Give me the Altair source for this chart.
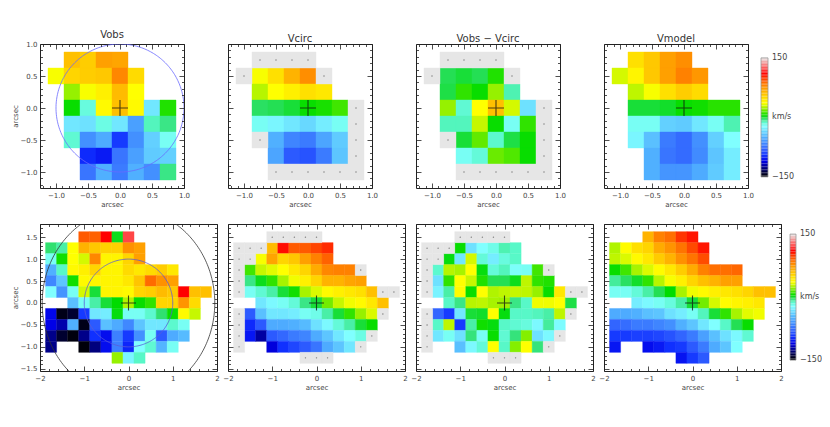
import altair as alt
import numpy as np
import pandas as pd

N = None   # no pixel
G = "g"    # observed pixel without model value (grey)

# ---------------- grids ----------------
cell = 0.25
top_x = [-1.0, -0.75, -0.5, -0.25, 0.0, 0.25, 0.5, 0.75]
top_y = [0.75, 0.5, 0.25, 0.0, -0.25, -0.5, -0.75, -1.0]
bot_x = [-1.75, -1.5, -1.25, -1.0, -0.75, -0.5, -0.25, 0.0, 0.25, 0.5, 0.75, 1.0, 1.25, 1.5, 1.75]
bot_y = [1.5, 1.25, 1.0, 0.75, 0.5, 0.25, 0.0, -0.25, -0.5, -0.75, -1.0, -1.25]

# ---------------- top row values (km/s) ----------------
top_vobs = [
    [N, 60, 55, 72, 70, N, N, N],
    [35, 52, 55, 57, 80, 50, N, N],
    [N, 22, 35, 42, 62, 36, N, N],
    [N, 5, -16, 38, 60, 38, -30, 8],
    [N, -30, -32, -17, -30, -56, -11, -6],
    [N, -14, -62, -52, -92, -62, -38, -20],
    [N, N, -97, -102, -72, -56, -40, -38],
    [N, N, -72, -50, -70, -50, -62, -6],
]
top_vcirc = [
    [N, G, G, G, G, N, N, N],
    [G, 35, 48, 65, 78, G, N, N],
    [N, 26, 36, 42, 48, 45, N, N],
    [N, -3, -2, 0, 5, 7, 12, G],
    [N, -20, -25, -30, -35, -28, -20, G],
    [N, G, -50, -66, -70, -54, -40, G],
    [N, N, -54, -82, -84, -70, -42, G],
    [N, N, G, G, G, G, G, G],
]
top_diff = [
    [N, G, G, G, G, N, N, N],
    [G, -2, 0, -2, 8, G, N, N],
    [N, -1, 10, 5, 22, -10, N, N],
    [N, 22, -14, 36, 60, 30, -32, G],
    [N, -11, -11, 28, 5, -20, 10, G],
    [N, G, 0, 16, -13, -1, 5, G],
    [N, N, -20, -15, 17, 14, 5, G],
    [N, N, G, G, G, G, G, G],
]
top_vmodel = [
    [N, 48, 57, 72, 78, N, N, N],
    [30, 40, 57, 72, 82, 75, N, N],
    [N, 27, 35, 48, 55, 50, N, N],
    [N, 0, 0, 1, 5, 6, 9, 9],
    [N, -20, -20, -38, -40, -30, -20, -10],
    [N, -25, -44, -70, -76, -62, -38, -22],
    [N, N, -50, -72, -76, -64, -42, -28],
    [N, N, -50, -60, -60, -52, -40, -28],
]

# ---------------- bottom row values (km/s) ----------------
bot_vobs = [
    [N, N, N, 92, 90, 110, 2, 122, N, N, N, N, N, N, N],
    [-4, -9, 36, 65, 57, 54, 54, 77, 72, N, N, N, N, N, N],
    [-20, 6, 36, 30, 80, 40, 40, 52, 72, N, N, N, N, N, N],
    [-50, -12, 38, 42, 52, 40, 40, 50, 45, 50, 55, 45, N, N, N],
    [-65, -42, 6, 38, 40, 40, 40, 45, 58, 88, 77, 72, N, N, N],
    [-22, -60, -20, 30, 0, 40, 40, 38, 52, 55, 62, 57, 110, 60, 60],
    [N, N, -44, -20, -9, 0, 4, 25, 5, 10, 52, 52, 76, 50, N],
    [-108, -145, -140, -92, -30, -28, 3, -20, -20, -13, -4, 5, 38, 28, N],
    [-110, -120, -50, -145, -82, -44, -52, -65, -42, -30, -30, -13, -20, N, N],
    [-126, -140, -147, -126, -95, -106, -68, -92, -62, -20, -82, -52, -46, N, N],
    [-126, N, N, -148, -128, -106, -68, -98, -22, -14, -48, -20, N, N, N],
    [N, N, N, N, N, N, 22, -25, -12, N, N, N, N, N, N],
]
bot_vcirc = [
    [N, N, N, G, G, G, G, G, N, N, N, N, N, N, N],
    [G, G, G, 62, 108, 92, 92, 97, 102, N, N, N, N, N, N],
    [G, G, 35, 70, 52, 57, 72, 82, 90, N, N, N, N, N, N],
    [G, 12, 28, 32, 36, 45, 52, 68, 80, 82, 82, G, N, N, N],
    [G, -6, 2, 10, 24, 34, 42, 52, 65, 65, 70, 72, N, N, N],
    [G, -20, -14, -9, 0, 6, 24, 31, 38, 42, 45, 48, 60, G, G],
    [N, N, -30, -24, -20, -15, -6, 0, 18, 28, 34, 38, 45, 60, N],
    [G, -82, -44, -30, -30, -28, -20, -18, -9, 0, 10, 22, 31, G, N],
    [G, -97, -82, -52, -52, -50, -46, -32, -24, -15, -9, 0, 5, N, N],
    [G, -103, -122, -82, -77, -70, -66, -52, -42, -30, -22, -17, G, N, N],
    [G, N, N, -112, -95, -88, -82, -72, -52, -42, -30, G, N, N, N],
    [N, N, N, N, N, N, G, G, G, N, N, N, N, N, N],
]
bot_diff = [
    [N, N, N, G, G, G, G, G, N, N, N, N, N, N, N],
    [G, G, G, 5, -32, -22, -18, -10, -12, N, N, N, N, N, N],
    [G, G, 3, -30, 30, -15, -28, -16, -12, N, N, N, N, N, N],
    [G, -13, 26, 24, 36, 3, -15, -11, -21, -20, 12, G, N, N, N],
    [G, -32, 10, 36, 28, 8, -2, -2, 2, 27, 10, 8, N, N, N],
    [G, -26, -9, 37, 5, 36, 25, 27, 28, 27, 22, 5, 45, G, G],
    [N, N, -12, -6, 26, 27, 24, 23, -6, -12, 34, 34, 36, -1, N],
    [G, -78, -92, -30, 0, 1, 36, 3, -12, -12, -11, -9, 27, G, N],
    [G, -12, 27, -92, -9, 6, 3, -12, -14, -16, -24, -8, -23, N, N],
    [G, -30, -20, -32, -5, -20, 5, -14, -5, 20, -32, -24, G, N, N],
    [G, N, N, -44, -24, -15, 36, -12, 20, 36, -5, G, N, N, N],
    [N, N, N, N, N, N, G, G, G, N, N, N, N, N, N],
]
bot_vmodel = [
    [N, N, N, 65, 82, 87, 100, 106, N, N, N, N, N, N, N],
    [25, 37, 48, 52, 68, 76, 86, 96, 106, N, N, N, N, N, N],
    [27, 31, 38, 45, 56, 65, 77, 86, 95, N, N, N, N, N, N],
    [5, 12, 24, 31, 37, 45, 55, 68, 82, 87, 87, 89, N, N, N],
    [-8, -3, 1, 10, 26, 35, 42, 52, 60, 65, 72, 72, N, N, N],
    [-20, -20, -15, -9, -2, 4, 24, 34, 38, 42, 45, 48, 52, 60, 60],
    [N, N, -28, -24, -20, -16, -9, 0, 18, 30, 37, 40, 42, 45, N],
    [-52, -52, -50, -44, -42, -32, -28, -20, -11, 0, 10, 24, 32, 34, N],
    [-78, -75, -70, -70, -66, -62, -50, -42, -30, -22, -12, -2, 5, N, N],
    [-92, -92, -90, -90, -88, -84, -78, -70, -56, -44, -32, -24, -14, N, N],
    [-103, N, N, -106, -102, -95, -92, -82, -70, -52, -42, -22, N, N, N],
    [N, N, N, N, N, N, -104, -92, -82, N, N, N, N, N, N],
]

panel_titles = ["Vobs", "Vcirc", "Vobs \u2212 Vcirc", "Vmodel"]

# circles / ellipses: (cx, cy, rx, ry, colour)
top_rings = [(0.0, 0.0, 1.0, 1.0, "#6a6aff")]
bot_rings = [(0.0, 0.0, 1.0, 1.0, "#5a5ad8"), (0.0, 0.0, 1.95, 2.15, "#333333")]
centre = [0.0, 0.0]

# colour table (IDL-like rainbow + white)
cmap_vals = [-150, -140, -125, -110, -95, -80, -65, -50, -35, -22, -12, -4, 4, 14, 25, 36,
             48, 60, 72, 85, 98, 110, 125, 140, 150]
cmap_cols = ["#000000", "#000030", "#000090", "#0000E8", "#1030FF", "#3060FF", "#4088FF",
             "#50B0FF", "#68D8FF", "#80FFFF", "#58F8C8", "#30E070", "#00DC00", "#50E800",
             "#B0F400", "#FFFF00", "#FFE000", "#FFC000", "#FFA000", "#FF7800", "#FF4000",
             "#FF0000", "#FF5858", "#F0A8A8", "#E8E8E8"]
cbar_range = [-150, 150]
cbar_label_vals = [150, 0, -150]
cbar_labels = ["150", "km/s", "\u2212150"]

FONT = "DejaVu Sans"
TXT = "#444444"
cscale = alt.Scale(domain=cmap_vals, range=cmap_cols, interpolate="rgb", clamp=True)


def grid_df(grid, xs, ys):
    rows = []
    for yc, row in zip(ys, grid):
        for xc, v in zip(xs, row):
            if v is None:
                continue
            rows.append(dict(xc=xc, yc=yc, x0=xc - cell / 2, x1=xc + cell / 2,
                             y0=yc - cell / 2, y1=yc + cell / 2,
                             v=(np.nan if v == G else float(v)),
                             kind=("g" if v == G else "c")))
    return pd.DataFrame(rows)


def ring_df(cx, cy, rx, ry):
    t = np.linspace(0, 2 * np.pi, 241)
    return pd.DataFrame({"px": cx + rx * np.cos(t), "py": cy + ry * np.sin(t), "o": np.arange(len(t))})


def make_axis(domain, minor, major, length, fmt, labels, title):
    lo, hi = domain
    vals = np.round(np.arange(np.ceil(lo / minor - 1e-9) * minor, hi + 1e-9, minor), 4)
    vals = [float(v) for v in vals]
    test = f"abs(datum.value/{major} - round(datum.value/{major})) < 0.001"
    big, small = 5.0, 2.5
    dash = {"condition": {"test": test, "value": [big, length - 2 * big, big, 2000]},
            "value": [small, length - 2 * small, small, 2000]}
    kw = dict(values=vals, grid=True, gridColor="#222222", gridWidth=0.8, gridOpacity=1,
              gridDash=dash, ticks=False, domain=False, labels=labels,
              labelExpr=f"{test} ? format(datum.value, '{fmt}') : ''",
              labelFont=FONT, labelFontSize=7, labelColor=TXT, labelPadding=3,
              labelFlush=False, labelOverlap=False, zindex=1)
    if title:
        kw.update(title=title, titleFont=FONT, titleFontSize=7, titleFontWeight="normal",
                  titleColor=TXT, titlePadding=2)
    else:
        kw.update(title=None)
    return alt.Axis(**kw)


def panel(grid, xs, ys, xdom, ydom, w, h, xmaj, xmin, ymaj, ymin, xfmt, yfmt,
          first, title, rings, cross_size):
    df = grid_df(grid, xs, ys)
    xa = make_axis(xdom, xmin, xmaj, h, xfmt, True, "arcsec")
    ya = make_axis(ydom, ymin, ymaj, w, yfmt, first, "arcsec" if first else None)
    xs_ = alt.Scale(domain=xdom, nice=False, zero=False)
    ys_ = alt.Scale(domain=ydom, nice=False, zero=False)

    base = alt.Chart(df)
    col = base.transform_filter("datum.kind == 'c'").mark_rect(strokeWidth=0.4).encode(
        x=alt.X("x0:Q", scale=xs_, axis=xa), x2="x1:Q",
        y=alt.Y("y0:Q", scale=ys_, axis=ya), y2="y1:Q",
        color=alt.Color("v:Q", scale=cscale, legend=None),
        stroke=alt.Stroke("v:Q", scale=cscale, legend=None),
    )
    grey = base.transform_filter("datum.kind == 'g'").mark_rect(
        fill="#e6e6e6", stroke="#e6e6e6", strokeWidth=0.4).encode(
        x=alt.X("x0:Q", scale=xs_, axis=xa), x2="x1:Q",
        y=alt.Y("y0:Q", scale=ys_, axis=ya), y2="y1:Q")
    dots = base.transform_filter("datum.kind == 'g'").mark_circle(
        size=2, color="#777777", opacity=1).encode(
        x=alt.X("xc:Q", scale=xs_, axis=xa), y=alt.Y("yc:Q", scale=ys_, axis=ya))
    layers = [col, grey, dots]
    for (cx, cy, rx, ry, c) in rings:
        layers.append(alt.Chart(ring_df(cx, cy, rx, ry)).mark_line(
            clip=True, color=c, strokeWidth=0.8).encode(
            x=alt.X("px:Q", scale=xs_, axis=xa), y=alt.Y("py:Q", scale=ys_, axis=ya),
            order="o:Q"))
    cross = alt.Chart(pd.DataFrame({"cx": [centre[0]], "cy": [centre[1]]})).mark_point(
        shape="M-1,0L1,0M0,-1L0,1", size=cross_size, filled=False, stroke="#111111",
        strokeWidth=1.1, opacity=0.75).encode(
        x=alt.X("cx:Q", scale=xs_, axis=xa), y=alt.Y("cy:Q", scale=ys_, axis=ya))
    layers.append(cross)
    ch = alt.layer(*layers).properties(width=w, height=h)
    if title:
        ch = ch.properties(title=alt.TitleParams(title, font=FONT, fontSize=10,
                                                 fontWeight="normal", color="#333333",
                                                 offset=0))
    return ch


def colorbar(h, ydom, x0, bw):
    lv = np.arange(-148.125, 150, 3.75)
    cdf = pd.DataFrame({"v": lv, "a": lv - 1.875, "b": lv + 1.875})
    ys_ = alt.Scale(domain=ydom, nice=False, zero=False)
    bars = alt.Chart(cdf).mark_rect().encode(
        x=alt.value(x0), x2=alt.value(x0 + bw),
        y=alt.Y("a:Q", scale=ys_, axis=None), y2="b:Q",
        color=alt.Color("v:Q", scale=cscale, legend=None))
    frame = alt.Chart(pd.DataFrame({"a": [cbar_range[0]], "b": [cbar_range[1]]})).mark_rect(
        fill=None, stroke="#999999", strokeWidth=0.8).encode(
        x=alt.value(x0), x2=alt.value(x0 + bw), y=alt.Y("a:Q", scale=ys_, axis=None), y2="b:Q")
    txt = alt.Chart(pd.DataFrame({"y": cbar_label_vals, "t": cbar_labels})).mark_text(
        align="left", baseline="middle", font=FONT, fontSize=8, color=TXT, dx=4).encode(
        x=alt.value(x0 + bw), y=alt.Y("y:Q", scale=ys_, axis=None), text="t:N")
    return alt.layer(bars, frame, txt).properties(width=1, height=h,
                                                  view=alt.ViewBackground(stroke=None))


TW, TH = 144, 144
BW, BH = 177, 147
tdom = [-1.25, 1.0]
bxdom = [-2.0, 2.0]
bydom = [-1.55, 1.8]

top_grids = [top_vobs, top_vcirc, top_diff, top_vmodel]
bot_grids = [bot_vobs, bot_vcirc, bot_diff, bot_vmodel]

top_panels = [panel(g, top_x, top_y, tdom, tdom, TW, TH, 0.5, 0.1, 0.5, 0.1, ".1f", ".1f",
                    i == 0, panel_titles[i], top_rings if i == 0 else [], 256)
              for i, g in enumerate(top_grids)]
bot_panels = [panel(g, bot_x, bot_y, bxdom, bydom, BW, BH, 1.0, 0.2, 0.5, 0.1, "d", ".1f",
                    i == 0, None, bot_rings if i == 0 else [], 225)
              for i, g in enumerate(bot_grids)]

cells = top_panels + [colorbar(TH, [-178, 185], -31, 7)] + \
        bot_panels + [colorbar(BH, [-176, 174], -2, 6)]

chart = alt.concat(*cells, columns=5, spacing={"row": 36, "column": 11}, bounds="flush").properties(
    padding={"left": 2, "top": 21, "right": 0, "bottom": 5},
    background="white",
).configure_view(stroke="#222222", strokeWidth=1)

chart.save("out.html", embed_options={"renderer": "svg", "actions": False})
